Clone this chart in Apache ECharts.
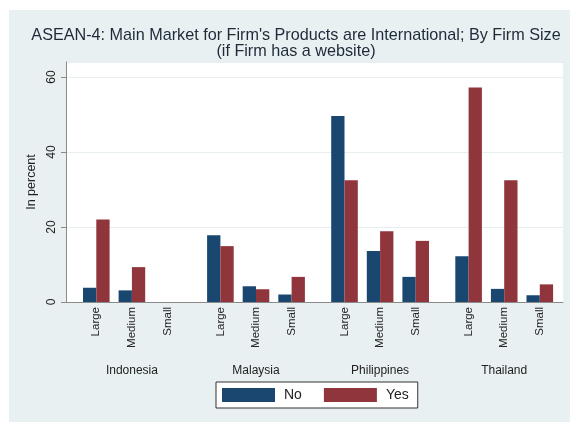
<!DOCTYPE html>
<html>
<head>
<meta charset="utf-8">
<script src="https://cdn.jsdelivr.net/npm/echarts@6/dist/echarts.min.js"></script>
<style>
html,body{margin:0;padding:0;background:#fff;}
#panel{position:absolute;left:9px;top:10px;width:561px;height:412px;background:#e9f0f2;}
#chart{position:absolute;left:0;top:0;width:570px;height:422px;}
</style>
</head>
<body>
<div id="panel"></div>
<div id="chart"></div>
<script>
// ---- data ----
const countries = ['Indonesia', 'Malaysia', 'Philippines', 'Thailand'];
const sizes = ['Large', 'Medium', 'Small'];
const seriesNames = ['No', 'Yes'];
const noValues = [
  [3.8, 3.1, null],   // Indonesia
  [17.8, 4.2, 2.0],   // Malaysia
  [49.6, 13.6, 6.7],  // Philippines
  [12.2, 3.5, 1.8]    // Thailand
];
const yesValues = [
  [22.0, 9.3, null],
  [14.9, 3.4, 6.7],
  [32.5, 18.9, 16.3],
  [57.2, 32.5, 4.7]
];
const yTicks = [0, 20, 40, 60];

// ---- layout / style ----
const FONT = 'Liberation Sans, Arial, Helvetica, sans-serif';
const colNo = '#1a476f', colYes = '#90353b';
const plotLeft = 66, plotTop = 62, plotRight = 563, plotBottom = 302;
const yMax = 64;
const groupStart = 78.5, groupStep = 124.1, groupWidth = 106.8;

const grids = [{
  left: plotLeft, top: plotTop, width: plotRight - plotLeft, height: plotBottom - plotTop,
  show: true, backgroundColor: '#ffffff', borderWidth: 0
}];
const xAxes = [{
  gridIndex: 0, type: 'category', data: [''],
  axisLine: {show: true, lineStyle: {color: '#8a8a8a', width: 1}},
  axisTick: {show: false}, axisLabel: {show: false}, splitLine: {show: false}
}];
const yAxes = [{
  gridIndex: 0, type: 'value', min: yTicks[0], max: yMax, interval: 20,
  name: 'In percent', nameLocation: 'middle', nameGap: 26,
  nameTextStyle: {fontFamily: FONT, fontSize: 12.5, color: '#222'},
  axisLine: {show: true, lineStyle: {color: '#8a8a8a', width: 1}},
  axisTick: {show: true, length: 5, lineStyle: {color: '#8a8a8a'}},
  axisLabel: {rotate: 90, margin: 8, fontFamily: FONT, fontSize: 12, color: '#222',
    showMaxLabel: false,
    formatter: v => yTicks.indexOf(v) >= 0 ? String(v) : ''},
  splitLine: {show: true, lineStyle: {color: '#e6eef0', width: 1}}
}];
const series = [];
countries.forEach((c, i) => {
  grids.push({left: groupStart + i * groupStep, top: plotTop, width: groupWidth,
              height: plotBottom - plotTop, show: false});
  xAxes.push({
    gridIndex: i + 1, type: 'category', data: sizes,
    name: c, nameLocation: 'middle', nameGap: 63,
    nameTextStyle: {fontFamily: FONT, fontSize: 12, color: '#222'},
    axisLine: {show: false}, axisTick: {show: false},
    axisLabel: {rotate: 90, margin: 5, fontFamily: FONT, fontSize: 11.5, color: '#222', interval: 0}
  });
  yAxes.push({gridIndex: i + 1, type: 'value', min: 0, max: yMax, show: false,
              splitLine: {show: false}});
  series.push({
    name: seriesNames[0], type: 'bar', xAxisIndex: i + 1, yAxisIndex: i + 1,
    data: noValues[i], barWidth: 13.3, barGap: '0%',
    itemStyle: {color: colNo}
  });
  series.push({
    name: seriesNames[1], type: 'bar', xAxisIndex: i + 1, yAxisIndex: i + 1,
    data: yesValues[i], barWidth: 13.3, barGap: '0%',
    itemStyle: {color: colYes}
  });
});

const chart = echarts.init(document.getElementById('chart'), null, {renderer: 'canvas'});
chart.setOption({
  animation: false,
  title: {
    text: "ASEAN-4: Main Market for Firm's Products are International; By Firm Size\n(if Firm has a website)",
    left: 296, top: 28, textAlign: 'center', padding: 0,
    textStyle: {fontFamily: FONT, fontSize: 16.2, fontWeight: 'normal', color: '#1e2a38', lineHeight: 16}
  },
  legend: {
    data: seriesNames, left: 216, top: 382, orient: 'horizontal',
    itemWidth: 53, itemHeight: 14, itemGap: 22, icon: 'rect',
    padding: [6, 9, 6, 6], backgroundColor: '#ffffff', borderColor: '#333', borderWidth: 1,
    textStyle: {fontFamily: FONT, fontSize: 14, color: '#222', padding: [0, 0, 0, 4]}
  },
  grid: grids,
  xAxis: xAxes,
  yAxis: yAxes,
  series: series
});
</script>
</body>
</html>
